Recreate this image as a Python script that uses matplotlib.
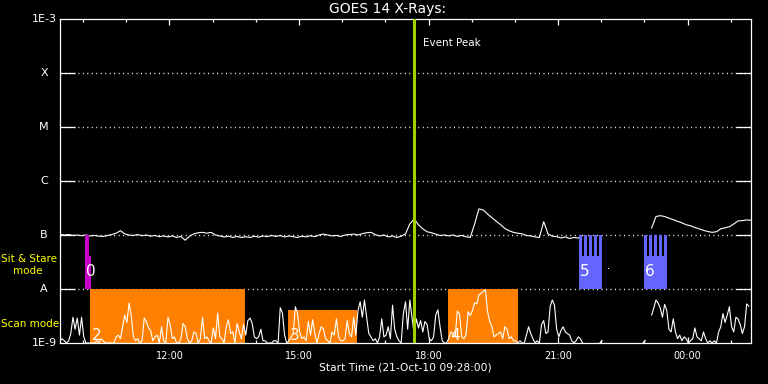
import numpy as np
import matplotlib
matplotlib.use('Agg')
import matplotlib.pyplot as plt
from matplotlib.ticker import FixedLocator, NullLocator

nan = np.nan

# time axis: hours after 21-Oct-10 09:28:00
t_start = 9 + 28 / 60.0

# GOES 14 long channel (1-8 A), every 6 min, units of 1e-7 W/m^2
t_long = np.linspace(0, 16, 161)
xrs_long = np.array([
    1.02, 1.0, 1.02, 0.98, 1.0, 0.97, 1.0, 0.96, 0.98, 0.95,
    0.94, 0.98, 1.02, 1.08, 1.2, 1.05, 1.0, 0.98, 1.02, 0.97,
    1.0, 0.95, 0.98, 0.93, 0.96, 0.92, 0.96, 0.9, 0.94, 0.8,
    0.95, 1.05, 1.1, 1.12, 1.08, 1.12, 1.0, 0.96, 0.92, 0.95,
    0.9, 0.94, 0.9, 0.93, 0.9, 0.95, 0.91, 0.96, 0.93, 0.98,
    0.94, 0.98, 0.92, 0.96, 0.93, 0.9, 0.95, 0.92, 0.97, 0.93,
    1.0, 1.04, 1.0, 0.96, 0.98, 0.94, 1.0, 1.02, 1.04, 1.0,
    1.06, 1.1, 1.12, 1.02, 0.96, 1.0, 0.92, 0.96, 0.9, 0.95,
    1.05, 1.6, 1.98, 1.55, 1.3, 1.15, 1.1, 1.04, 0.98, 1.0,
    0.96, 1.0, 0.94, 0.98, 0.93, 0.9, 1.6, 3.05, 2.9, 2.45,
    2.1, 1.8, 1.56, 1.32, 1.2, 1.12, 1.08, 1.05, 0.98, 0.96,
    0.92, 0.9, 1.76, 1.05, 0.95, 0.93, 0.88, 0.92, 0.86, 0.9,
    0.88, 0.98, nan, nan, nan, nan, nan, 0.245, nan, nan,
    nan, nan, nan, nan, nan, nan, nan, 1.35, 2.2, 2.28,
    2.2, 2.05, 1.92, 1.8, 1.68, 1.55, 1.48, 1.38, 1.3, 1.22,
    1.16, 1.12, 1.15, 1.3, 1.36, 1.42, 1.6, 1.82, 1.85, 1.9, 1.88,
]) * 1e-7

# GOES 14 short channel (0.5-4 A), every 3 min, units of 1e-9 W/m^2
t_short = np.arange(320) * 0.05
xrs_short = np.array([
    1.1, 1.2, 1.1, 1.0, 1.1, 1.5, 3.0, 1.8, 2.9, 1.4, 3.0, 1.3, 1.0, 1.0, 1.0, 1.0, 1.0, 1.1, 1.0, 1.2,
    1.1, 1.0, 1.0, 1.0, 1.0, 1.0, 1.3, 1.4, 1.2, 2.0, 3.3, 2.4, 5.5, 3.2, 1.3, 1.1, 1.2, 1.0, 1.1, 2.9,
    2.5, 1.9, 1.7, 1.1, 1.3, 1.4, 1.0, 2.0, 1.1, 1.0, 3.0, 2.2, 1.2, 1.3, 1.0, 1.0, 1.2, 2.3, 2.0, 1.2,
    1.0, 1.1, 1.6, 1.5, 1.0, 1.2, 3.0, 1.2, 1.3, 1.1, 1.0, 1.9, 1.2, 3.6, 1.3, 1.2, 1.0, 2.0, 2.7, 1.5,
    1.6, 1.0, 2.3, 1.6, 1.2, 2.2, 1.4, 2.6, 2.9, 2.3, 1.3, 1.2, 1.3, 1.8, 1.1, 1.1, 1.0, 1.0, 1.0, 1.1,
    1.1, 1.0, 4.5, 3.6, 1.4, 1.0, 1.1, 1.3, 1.5, 4.7, 3.5, 1.6, 1.2, 1.3, 1.1, 2.5, 1.4, 2.7, 1.5, 1.0,
    1.5, 2.0, 1.8, 1.2, 1.1, 1.0, 1.6, 1.4, 2.8, 1.3, 1.1, 1.1, 1.2, 2.6, 1.5, 1.3, 3.0, 1.4, 4.0, 5.8,
    3.0, 6.25, 3.0, 1.5, 1.3, 1.1, 1.2, 1.0, 1.3, 2.8, 1.3, 1.4, 2.0, 1.2, 5.0, 1.8, 1.3, 1.1, 1.0, 3.5,
    5.8, 1.8, 6.25, 3.0, 1.5, 2.8, 1.9, 2.6, 1.6, 2.5, 2.2, 1.2, 1.1, 1.3, 3.3, 4.1, 2.0, 1.1, 1.0, 1.0,
    1.2, 1.6, 1.5, 1.3, 3.9, 3.5, 1.3, 1.2, 1.4, 3.8, 3.2, 4.0, 5.5, 5.3, 7.8, 8.3, 9.0, 9.6, 3.8, 2.5,
    2.0, 1.3, 1.4, 1.5, 1.6, 1.2, 2.0, 1.8, 1.2, 1.3, 1.1, 1.1, 1.0, 1.1, 1.0, 1.0, 1.4, 2.0, 1.5, 1.2,
    1.0, 1.1, 1.0, 2.2, 2.6, 1.5, 1.6, 4.8, 6.25, 5.0, 1.8, 1.3, 1.7, 2.0, 1.6, 1.5, 1.4, 1.1, 1.0, 1.1,
    1.3, 1.2, 1.0, nan, nan, nan, nan, nan, nan, nan, 1.0, 1.12, nan, nan, nan, nan, nan, nan, nan, nan,
    nan, nan, nan, nan, nan, nan, nan, nan, nan, nan, 1.0, 1.12, nan, nan, 3.3, 4.5, 6.25, 5.5, 4.4, 3.0,
    5.2, 4.0, 1.8, 1.6, 2.8, 1.6, 1.2, 1.4, 1.1, 1.3, 1.2, 1.0, 1.1, 1.2, 1.9, 1.3, 1.2, 1.1, 1.6, 1.2,
    1.0, 1.1, 1.0, 1.1, 1.0, 1.6, 2.0, 3.5, 2.4, 3.3, 4.7, 2.0, 1.6, 3.0, 2.8, 2.2, 1.5, 2.0, 5.3, 4.8,
]) * 1e-9

# scan mode observations (hours after start)
scan_start = [0.694, 5.278, 8.98]
scan_end = [4.282, 6.875, 10.6]
scan_top = [1e-8, 4.1e-9, 1e-8]
scan_labels = ['2', '3', '4']

# sit & stare observations
sit_start = [0.586, 12.01, 13.52]
sit_end = [0.718, 12.55, 14.045]
sit_nraster = [1, 5, 5]
sit_labels = ['0', '5', '6']
sit_colors = ['#c800c8', '#6464ff', '#6464ff']

event_peak = 8.187

levels = [1e-9, 1e-8, 1e-7, 1e-6, 1e-5, 1e-4, 1e-3]
level_names = ['1E-9', 'A', 'B', 'C', 'M', 'X', '1E-3']

hour_ticks = [12, 15, 18, 21, 24]
hour_labels = ['12:00', '15:00', '18:00', '21:00', '00:00']

fig = plt.figure(figsize=(7.68, 3.84), dpi=100, facecolor='black')
ax = fig.add_axes([60 / 768, 41 / 384, 691 / 768, 324 / 384], facecolor='black')
ax.set_yscale('log')
ax.set_ylim(1e-9, 1e-3)
ax.set_xlim(0, 16)

for s in ax.spines.values():
    s.set_color('white')
    s.set_linewidth(0.9)

ax.yaxis.set_major_locator(FixedLocator(levels[1:-1]))
ax.yaxis.set_minor_locator(NullLocator())
ax.tick_params(axis='y', which='major', direction='in', length=10.8, width=0.9,
               color='white', left=True, right=True, labelleft=False)
ax.grid(axis='y', color='white', ls=(0, (0.72, 2.5)), lw=1)
for lv, nm in zip(levels, level_names):
    ax.text(-16 / 691, lv, nm, transform=ax.get_yaxis_transform(), color='white',
            fontsize=8, ha='center', va='center')

ax.xaxis.set_major_locator(FixedLocator([h - t_start for h in hour_ticks]))
ax.xaxis.set_minor_locator(FixedLocator(np.arange(10, 26) - t_start))
ax.set_xticklabels(hour_labels)
ax.tick_params(axis='x', which='major', direction='in', length=4.3, width=0.9,
               top=True, bottom=True, colors='white', labelsize=7, pad=6)
ax.tick_params(axis='x', which='minor', direction='in', length=2.5, width=0.9,
               top=True, bottom=True, colors='white')

# scan mode boxes
for s, e, top, lab in zip(scan_start, scan_end, scan_top, scan_labels):
    ax.bar(s, top - 1e-9, bottom=1e-9, width=e - s, align='edge', color='#ff8000',
           lw=0, zorder=2)
    ax.text(s + 0.05, 1.02e-9, lab, color='white', fontsize=11, ha='left', va='bottom', zorder=6)

# data
ax.plot(t_long, xrs_long, color='white', lw=0.8, zorder=3)
ax.plot(t_short, xrs_short, color='white', lw=0.8, zorder=3)
lone = np.isfinite(xrs_long) & ~np.isfinite(np.r_[nan, xrs_long[:-1]]) & ~np.isfinite(np.r_[xrs_long[1:], nan])
ax.plot(t_long[lone], xrs_long[lone], 's', color='white', ms=0.7, mew=0, zorder=3)

# sit & stare boxes
mid = 4.08e-8
for s, e, n, lab, c in zip(sit_start, sit_end, sit_nraster, sit_labels, sit_colors):
    ax.bar(s, mid - 1e-8, bottom=1e-8, width=e - s, align='edge', color=c, lw=0, zorder=4)
    for k in range(n):
        ax.bar(s + k * 0.116, 1e-7 - mid, bottom=mid, width=0.08, align='edge', color=c,
               lw=0, zorder=4)
    ax.text(s + 0.02, 2.1e-8, lab, color='white', fontsize=11, ha='left', va='center', zorder=6)

ax.axvline(event_peak, color='#a0d000', lw=2.2, zorder=5)
ax.text(event_peak + 0.21, 3.6e-4, 'Event Peak', color='white', fontsize=7.5, ha='left', va='center')

fig.text(388 / 768, 1 - 9 / 384, 'GOES 14 X-Rays:', color='white', fontsize=10, ha='center', va='center')
fig.text(405 / 768, 1 - 368 / 384, 'Start Time (21-Oct-10 09:28:00)', color='white',
         fontsize=7.7, ha='center', va='center')
fig.text(1 / 768, 1 - 258.5 / 384, 'Sit & Stare', color='#ffff00', fontsize=7.5, ha='left', va='center')
fig.text(13 / 768, 1 - 271 / 384, 'mode', color='#ffff00', fontsize=7.5, ha='left', va='center')
fig.text(1 / 768, 1 - 324 / 384, 'Scan mode', color='#ffff00', fontsize=7.5, ha='left', va='center')

fig.savefig('out.png', dpi=100, facecolor='black')
